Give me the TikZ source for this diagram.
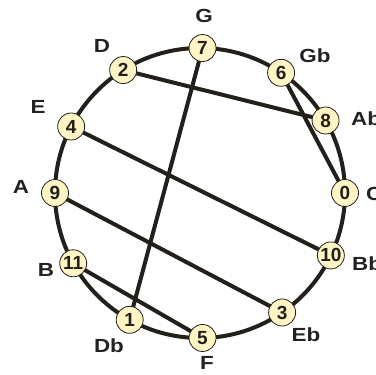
\documentclass[tikz,border=0pt]{standalone}
\usepackage{fontspec}
\setmainfont{Liberation Sans}
\newfontfamily\labfont[FakeStretch=1.18]{Liberation Sans}
\definecolor{ink}{HTML}{231F1A}
\definecolor{pale}{HTML}{FFF5C4}
\definecolor{labelc}{HTML}{222222}
\begin{document}
\begin{tikzpicture}[x=1pt,y=-1pt,
  ring/.style={draw=ink,line width=4pt},
  chord/.style={draw=ink,line width=4pt},
  pc/.style={circle,draw=ink,line width=0.8pt,fill=pale,minimum size=27pt,inner sep=0pt,
    font=\bfseries\fontsize{19}{19}\selectfont,text=ink},
  nm/.style={font=\labfont\bfseries\fontsize{19}{19}\selectfont,text=labelc,inner sep=0pt}]
\useasboundingbox (0,0) rectangle (376,375);
\def\cx{200}\def\cy{193}\def\R{145}
\coordinate (c) at (\cx,\cy);
\draw[ring] (c) circle[radius=\R];
% pitch-class nodes on the circle
\foreach \n/\a in {7/89,6/56,8/30,0/0,10/-25.5,3/-55.5,5/-89,1/-119,11/-151,9/180,4/152.7,2/122}{
  \coordinate (p\n) at ({\cx+\R*cos(\a)},{\cy-\R*sin(\a)});
}
% chords
\draw[chord] (p2) -- (p8);
\draw[chord] (p7) -- (p1);
\draw[chord] (p6) -- (p0);
\draw[chord] (p4) -- (p10);
\draw[chord] (p9) -- (p3);
\draw[chord] (p11) -- (p5);
\foreach \n in {7,6,8,0,10,3,5,1,11,9,4,2}{
  \node[pc] (n\n) at (p\n) {\n};
}
% note names
\node[nm] (lG)  at (204,16)  {G};
\node[nm] (lGb) at (315,56)  {Gb};
\node[nm,anchor=west] (lAb) at (351,119) {Ab};
\node[nm,anchor=west] (lC)  at (366,194) {C};
\node[nm,anchor=west] (lBb) at (352,264) {Bb};
\node[nm] (lEb) at (306,335) {Eb};
\node[nm] (lF)  at (207,363) {F};
\node[nm] (lDb) at (109,346) {Db};
\node[nm] (lB)  at (46,270)  {B};
\node[nm] (lA)  at (21,187)  {A};
\node[nm] (lE)  at (38,107)  {E};
\node[nm] (lD)  at (102,46)  {D};
\end{tikzpicture}
\end{document}
